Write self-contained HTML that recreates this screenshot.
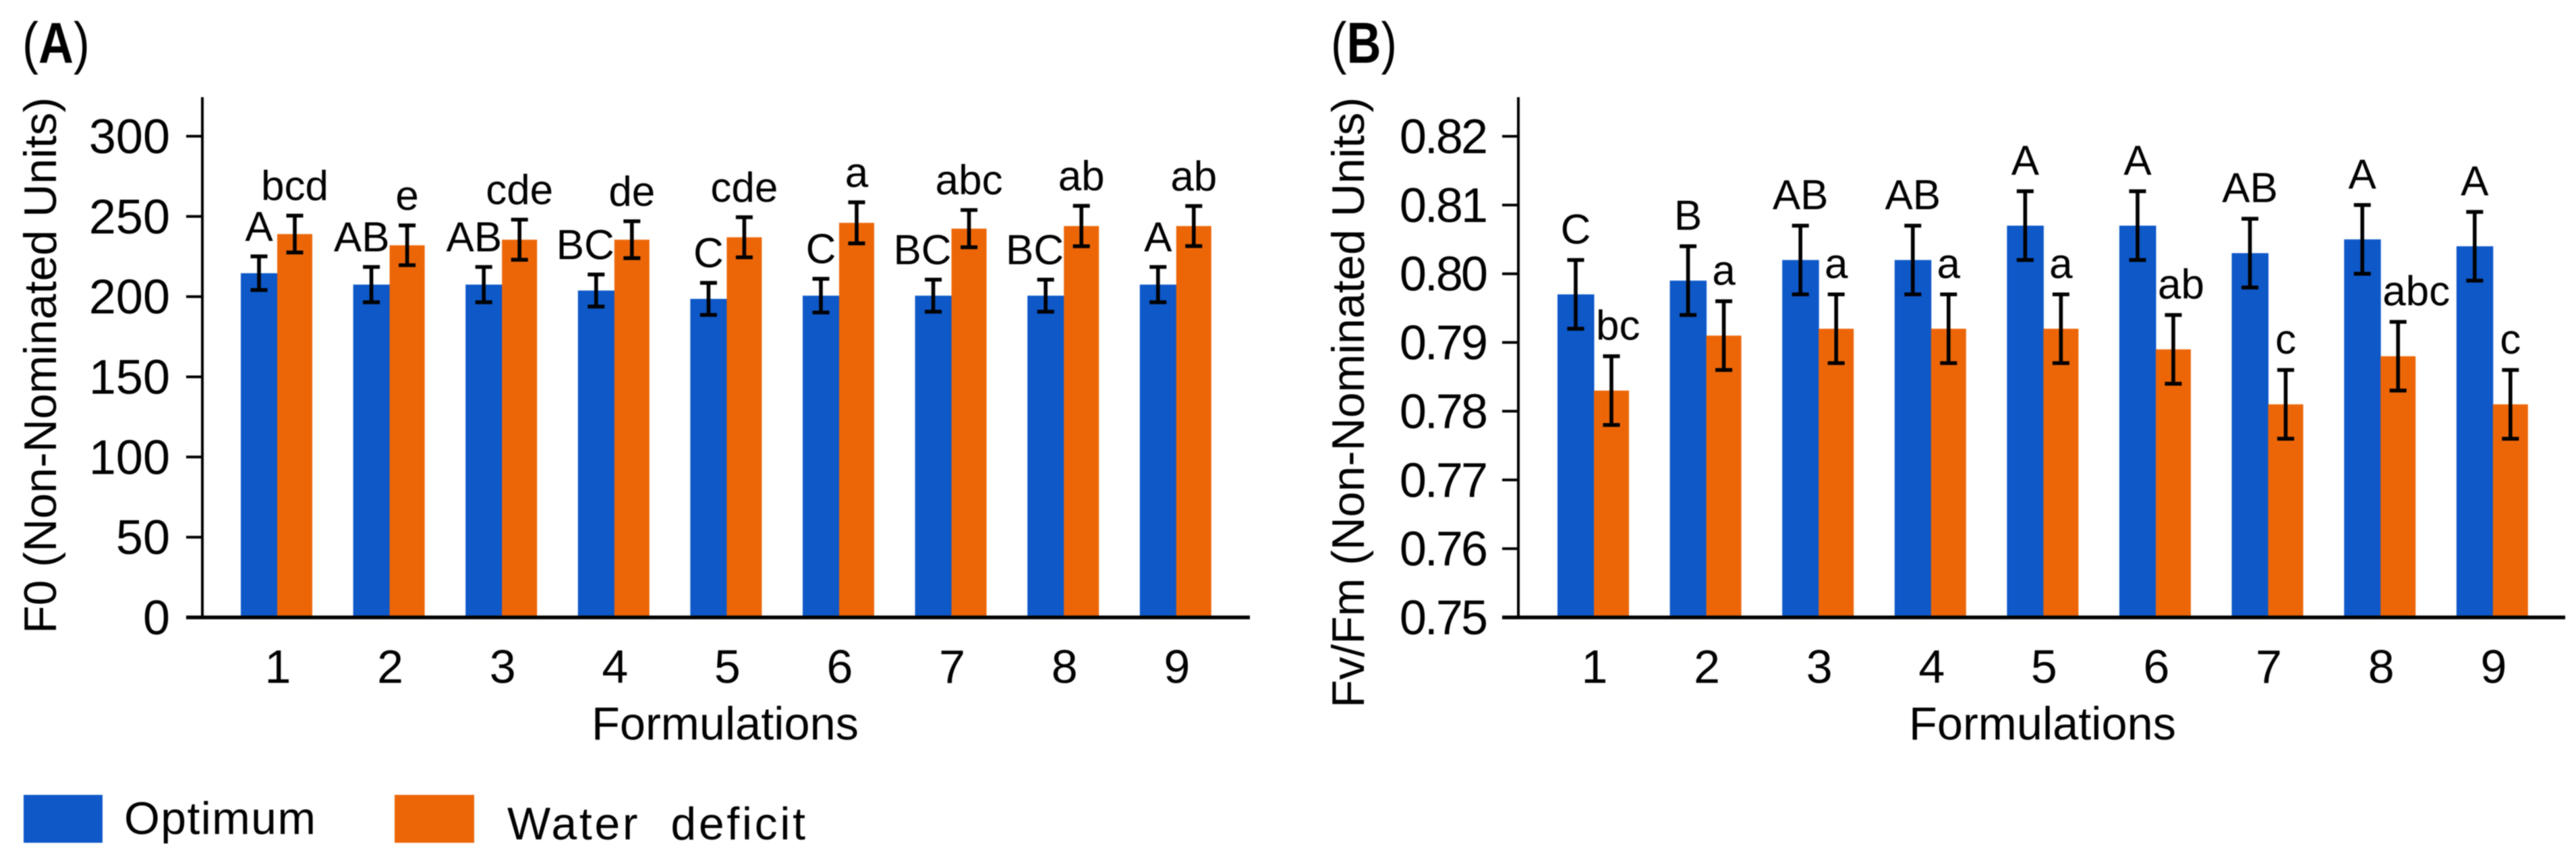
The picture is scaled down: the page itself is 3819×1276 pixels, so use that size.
<!DOCTYPE html>
<html lang="en">
<head>
<meta charset="utf-8">
<title>F0 and Fv/Fm by formulation</title>
<style>
html,body{margin:0;padding:0;background:#fff;}
svg{display:block;filter:blur(.9px);}
text{font-family:"Liberation Sans",Arial,sans-serif;fill:#000;}
</style>
</head>
<body>
<svg id="figure" xmlns="http://www.w3.org/2000/svg" width="3819" height="1276" viewBox="0 0 3819 1276">
  <rect x="0" y="0" width="3819" height="1276" fill="#ffffff"/>
  <text x="33" y="93" font-size="85" textLength="100" lengthAdjust="spacingAndGlyphs">(<tspan font-weight="bold">A</tspan>)</text>
  <text x="1973" y="93" font-size="85" textLength="98" lengthAdjust="spacingAndGlyphs">(<tspan font-weight="bold">B</tspan>)</text>
  <text transform="translate(83 939) rotate(-90)" font-size="68" textLength="795">F0 (Non-Nominated Units)</text>
  <text transform="translate(2022 1049) rotate(-90)" font-size="68" textLength="905">Fv/Fm (Non-Nominated Units)</text>
  <text x="1075" y="1096" font-size="68.5" text-anchor="middle">Formulations</text>
  <text x="3028" y="1096" font-size="68.5" text-anchor="middle">Formulations</text>
  <g id="panel-a"></g>
  <g id="panel-b"></g>
  <g>
    <rect x="35" y="1178" width="117" height="71" fill="#0e58c8"/>
    <text x="184" y="1236" font-size="68" textLength="284">Optimum</text>
    <rect x="585" y="1178" width="118" height="71" fill="#ec6608"/>
    <text x="752" y="1244" font-size="68" textLength="442" xml:space="preserve">Water  deficit</text>
  </g>
</svg>
<script>
const categories = ['1','2','3','4','5','6','7','8','9'];

const ticksA = [0,50,100,150,200,250,300];
const optimumA = [214.6,207.5,207.5,203.8,198.6,200.6,200.6,200.6,207.5];
const deficitA = [239,232,235.5,235.5,237,246,242.4,244,244];
const optimumErrA = [10.5,11,11,10,10,10.5,10,10,11];
const deficitErrA = [11.5,12.4,12.5,11.5,12.5,12.8,11.6,12.6,12.5];
const optimumLettersA = ['A','AB','AB','BC','C','C','BC','BC','A'];
const deficitLettersA = ['bcd','e','cde','de','cde','a','abc','ab','ab'];

const ticksB = ['0.75','0.76','0.77','0.78','0.79','0.80','0.81','0.82'];
const optimumB = [0.797,0.799,0.802,0.802,0.807,0.807,0.803,0.805,0.804];
const deficitB = [0.783,0.791,0.792,0.792,0.792,0.789,0.781,0.788,0.781];
const optimumErrB = [0.005,0.005,0.005,0.005,0.005,0.005,0.005,0.005,0.005];
const deficitErrB = [0.005,0.005,0.005,0.005,0.005,0.005,0.005,0.005,0.005];
const optimumLettersB = ['C','B','AB','AB','A','A','AB','A','A'];
const deficitLettersB = ['bc','a','a','a','a','ab','c','abc','c'];

const NS = 'http://www.w3.org/2000/svg';
const BLUE = '#0e58c8';
const ORANGE = '#ec6608';

function make(parent, tag, attrs, text) {
  const el = document.createElementNS(NS, tag);
  for (const k in attrs) el.setAttribute(k, attrs[k]);
  if (text !== undefined) el.textContent = text;
  parent.appendChild(el);
  return el;
}

function drawPanel(cfg) {
  const g = document.getElementById(cfg.id);
  const y = v => cfg.y0 - (v - cfg.min) * cfg.pxPerUnit;
  const cx = i => cfg.firstCenter + i * cfg.period;

  cfg.optimum.forEach((v, i) => {
    const bar = make(g, 'rect', {x: cx(i) - 54, y: y(v), width: 54.5, height: cfg.y0 - y(v), fill: BLUE});
    
    
  });
  cfg.deficit.forEach((v, i) => {
    const bar = make(g, 'rect', {x: cx(i), y: y(v), width: 52, height: cfg.y0 - y(v), fill: ORANGE});
    
    
  });

  function errorBars(values, errs, center, seriesName) {
    values.forEach((v, i) => {
      const x = center(i), top = y(v + errs[i]), bottom = y(v - errs[i]);
      const err = make(g, 'path', {d: `M${x} ${top}V${bottom}M${x - 12.5} ${top}H${x + 12.5}M${x - 12.5} ${bottom}H${x + 12.5}`, stroke: '#000', 'stroke-width': 5.6, fill: 'none'});
      
      
    });
  }
  errorBars(cfg.optimum, cfg.optimumErr, i => cx(i) - 27, 'optimum');
  errorBars(cfg.deficit, cfg.deficitErr, i => cx(i) + 26, 'water-deficit');

  // significance letters: multi-letter labels dodge away from the neighbouring bar
  cfg.optimumLetters.forEach((s, i) => {
    const yy = y(cfg.optimum[i] + cfg.optimumErr[i]) - cfg.letterGap;
    const multiShift = cfg.dodgeOptimum && s.length > 1;
    const t = make(g, 'text', {x: multiShift ? cx(i) : cx(i) - 27, y: yy, 'font-size': 62, 'text-anchor': multiShift ? 'end' : 'middle'}, s);
    
    
  });
  cfg.deficitLetters.forEach((s, i) => {
    const yy = y(cfg.deficit[i] + cfg.deficitErr[i]) - cfg.letterGap;
    const multiShift = cfg.dodgeDeficit && s.length > 1;
    const t = make(g, 'text', {x: multiShift ? cx(i) + 3 : cx(i) + 26, y: yy, 'font-size': 62, 'text-anchor': multiShift ? 'start' : 'middle'}, s);
    
    
  });

  // axes
  const yAxis = make(g, 'line', {x1: cfg.axisX, x2: cfg.axisX, y1: 144, y2: cfg.y0 + 2, stroke: '#000', 'stroke-width': 4});
  
  
  const xAxis = make(g, 'line', {x1: cfg.axisX - 24, x2: cfg.axisEnd, y1: cfg.y0, y2: cfg.y0, stroke: '#000', 'stroke-width': 5.5});
  
  

  cfg.ticks.forEach(t => {
    const v = Number(t), ty = y(v);
    const tick = make(g, 'line', {x1: cfg.axisX - 24, x2: cfg.axisX, y1: ty, y2: ty, stroke: '#000', 'stroke-width': 4});
    
    
    const label = make(g, 'text', {x: cfg.axisX - 48, y: ty + 25, 'font-size': 72, 'text-anchor': 'end', 'letter-spacing': cfg.tickSpacing}, String(t));
    
    
  });

  categories.forEach((c, i) => {
    const label = make(g, 'text', {x: cx(i) + 1, y: 1012, 'font-size': 70, 'text-anchor': 'middle'}, c);
    
    
  });
}

drawPanel({
  id: 'panel-a', y0: 915, min: 0, pxPerUnit: 2.377,
  axisX: 300, axisEnd: 1853, firstCenter: 411, period: 166.6,
  ticks: ticksA, tickSpacing: 0,
  optimum: optimumA, deficit: deficitA, optimumErr: optimumErrA, deficitErr: deficitErrA,
  optimumLetters: optimumLettersA, deficitLetters: deficitLettersA,
  letterGap: 23, dodgeOptimum: true, dodgeDeficit: false
});
drawPanel({
  id: 'panel-b', y0: 915, min: 0.75, pxPerUnit: 10186,
  axisX: 2251, axisEnd: 3803, firstCenter: 2363, period: 166.6,
  ticks: ticksB, tickSpacing: -3,
  optimum: optimumB, deficit: deficitB, optimumErr: optimumErrB, deficitErr: deficitErrB,
  optimumLetters: optimumLettersB, deficitLetters: deficitLettersB,
  letterGap: 24.5, dodgeOptimum: false, dodgeDeficit: true
});
</script>
</body>
</html>
